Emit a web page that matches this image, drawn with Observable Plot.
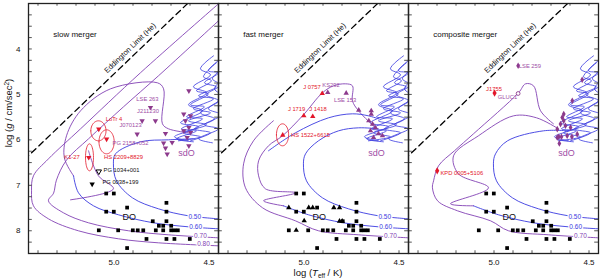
<!DOCTYPE html>
<html><head><meta charset="utf-8">
<script src="https://cdn.jsdelivr.net/npm/d3@7"></script>
<script src="https://cdn.jsdelivr.net/npm/@observablehq/plot@0.6"></script>
<style>body{margin:0;background:#fff;} svg{display:block;}</style>
</head><body><div id="chart"></div>
<script>
// ---------- data ----------
const panels = ["slow merger", "fast merger", "composite merger"];
const xTickLabels = [5.0, 4.5];
const yTickLabels = [4, 5, 6, 7, 8];
const xMinorTicks = [4.5, 4.6, 4.7, 4.8, 4.9, 5.0, 5.1, 5.2, 5.3, 5.4];
const yMinorTicks = [3.25, 3.5, 3.75, 4, 4.25, 4.5, 4.75, 5, 5.25, 5.5, 5.75, 6, 6.25, 6.5, 6.75, 7, 7.25, 7.5, 7.75, 8, 8.25];

// Eddington limit (He): [logTeff, log g]
const eddington = [[4.6125, 3.0], [5.45, 6.35]];
const eddLabel = ["Eddington Limit (He)", 4.915, 3.98];

// DO white dwarfs (squares), same in all panels
const doLogT = [5.041, 5.001, 4.931, 5.041, 5.001, 4.724, 4.724, 4.796, 4.724, 4.764, 4.741, 4.699, 5.080, 4.978, 4.901, 4.875, 4.846, 4.780, 4.741, 4.699, 4.682, 4.664, 4.829, 4.724, 4.682, 4.601, 4.931];
const doLogG = [7.18, 7.18, 7.49, 7.58, 7.58, 7.385, 7.58, 7.79, 7.79, 7.89, 7.89, 7.89, 7.99, 7.99, 7.99, 7.99, 7.99, 7.99, 7.99, 7.99, 7.99, 7.99, 8.18, 8.18, 8.18, 8.18, 8.38];
// extra DO stars (triangles) in fast-merger panel
const doTriT = [5.080, 5.041, 4.999, 4.975, 4.954, 4.843, 4.813, 4.813, 4.799];
const doTriG = [7.49, 7.99, 7.78, 7.49, 7.49, 7.49, 7.49, 7.79, 7.79];

// sdO stars
const sdoSlowT = [4.808, 4.852, 4.878, 4.739, 4.729, 4.720, 4.694, 4.606, 4.606, 4.633, 4.597, 4.624, 4.606, 4.633, 4.597, 4.615, 4.729, 4.782];
const sdoSlowG = [5.288, 5.581, 5.874, 6.071, 6.181, 6.314, 6.058, 6.131, 4.921, 5.433, 5.471, 5.581, 5.728, 5.801, 5.838, 5.948, 5.860, 5.581];
const sdoFastT = [4.875, 4.778, 4.712, 4.646, 4.646, 4.659, 4.639, 4.624, 4.650, 4.608, 4.587, 4.634];
const sdoFastG = [4.958, 4.971, 5.345, 5.361, 5.433, 5.581, 5.653, 5.735, 5.801, 5.867, 5.911, 5.948];
const sdoCompT = [4.873, 4.536, 4.588, 4.633, 4.641, 4.633, 4.650, 4.624, 4.667, 4.597, 4.562, 4.667, 4.615, 4.659, 4.645, 4.590, 4.656];
const sdoCompG = [4.371, 4.679, 5.141, 5.433, 5.508, 5.581, 5.653, 5.691, 5.764, 5.728, 5.874, 5.948, 5.911, 5.933, 5.933, 5.933, 6.080];
const compOpen = [[4.873, 4.98]];

// special (red) objects
const redSlow = [[5.080, 5.764], [5.039, 5.984], [5.133, 6.388]];
const redFast = [[4.904, 4.980], [5.001, 5.471], [4.954, 5.486], [5.112, 5.895]];
const redComp = [[4.997, 4.971], [5.299, 6.681]];
const blackOpenSlow = [[5.080, 6.696]];
const blackFilledSlow = [[5.115, 6.974]];

// error ellipses: panel, centre logT, centre log g, half-width, half-height
const ellipses = [
  ["slow merger", 5.082, 5.801, 0.040, 0.22],
  ["slow merger", 5.039, 6.043, 0.040, 0.264],
  ["slow merger", 5.129, 6.384, 0.021, 0.297],
  ["fast merger", 5.113, 5.889, 0.032, 0.242]
];

// object labels: text, logT, log g, kind, anchor
const slowLabels = [
  ["LSE 263", 4.824, 5.097, "sdo", "middle"],
  ["J211230", 4.821, 5.367, "sdo", "middle"],
  ["J070123", 4.913, 5.675, "sdo", "middle"],
  ["PG 2158+052", 4.913, 6.071, "sdo", "middle"],
  ["LoTr 4", 5.000, 5.537, "red", "middle"],
  ["K1-27", 5.221, 6.388, "red", "middle"],
  ["HS 2209+8829", 4.950, 6.388, "red", "middle"],
  ["PG 1034+001", 5.055, 6.666, "black", "start"],
  ["PG 0038+199", 5.061, 6.938, "black", "start"]
];
const fastLabels = [
  ["J 0757", 4.958, 4.848, "red", "middle"],
  ["KS292", 4.858, 4.789, "sdo", "middle"],
  ["LSE 153", 4.784, 5.119, "sdo", "middle"],
  ["J 1719", 5.039, 5.323, "red", "middle"],
  ["J 1418", 4.926, 5.323, "red", "middle"],
  ["HS 1522+6615", 4.966, 5.895, "red", "middle"]
];
const compLabels = [
  ["LSE 259", 4.811, 4.371, "sdo", "middle"],
  ["J1755", 5.000, 4.883, "red", "middle"],
  ["GLUC1", 4.929, 5.068, "sdo", "middle"],
  ["KPD 0005+5106", 5.282, 6.740, "red", "start"]
];
const regionLabels = [["sdO", 4.618, 6.30, "sdo"], ["DO", 4.920, 7.70, "black"]];
const panelTitles = [5.32, 3.68];
const massLabels = [["0.50", 4.575, 7.693], ["0.60", 4.570, 7.913], ["0.70", 4.545, 8.111]];
const massLabel080 = [["0.80", 4.529, 8.287]];

// cooling tracks (lower parts, common)
const cool050 = [[4.992, 6.307], [5.003, 6.527], [4.987, 6.901], [4.903, 7.275], [4.766, 7.517], [4.608, 7.671], [4.45, 7.737]];
const cool060 = [[5.213, 6.791], [5.187, 7.165], [5.108, 7.451], [4.976, 7.649], [4.792, 7.825], [4.608, 7.913], [4.45, 7.957]];
const cool070 = [[5.345, 7.341], [5.266, 7.605], [5.134, 7.825], [4.924, 8.000], [4.713, 8.089], [4.45, 8.155]];
const cool080 = [[5.424, 7.451], [5.345, 7.737], [5.187, 8.001], [4.976, 8.177], [4.766, 8.265], [4.45, 8.331]];

// slow merger upper tracks
const slowTop050 = [[4.582, 5.977], [4.713, 5.999], [4.861, 6.043]];
const slowPA = [[4.45, 3.007], [4.861, 4.525], [5.176, 5.757], [5.345, 6.418], [5.424, 6.791], [5.434, 7.121]];
const slowPB = [[4.45, 3.381], [4.766, 4.591], [4.95, 5.273], [5.134, 5.977], [5.25, 6.445], [5.303, 6.886], [5.318, 7.172]];
const slowPC = [[4.608, 5.845], [4.713, 5.757], [4.745, 5.647], [4.739, 4.877], [4.771, 4.745], [5.018, 4.877], [5.176, 5.361], [5.25, 5.911], [5.261, 6.401]];
const slowTongue = [[5.134, 6.24], [5.082, 6.791], [5.003, 7.077], [5.229, 7.319]];
// fast merger upper tracks
const fastTop050 = [[4.608, 5.757], [4.713, 5.735], [4.818, 5.801], [4.924, 6.021]];
const fastBlue1 = [[5.187, 6.24], [5.045, 5.845], [4.871, 5.515], [4.745, 5.427], [4.661, 5.471], [4.608, 5.537]];
const fastPA = [[4.624, 5.735], [4.713, 5.361], [4.745, 5.141], [4.745, 4.811], [4.782, 4.767], [4.845, 4.811], [4.903, 4.965], [5.003, 5.449], [5.113, 5.911], [5.187, 6.131], [5.239, 6.461], [5.239, 6.791], [5.203, 7.077], [5.045, 7.165], [5.213, 7.341]];
const fastPB = [[5.161, 5.581], [5.266, 6.021], [5.318, 6.527], [5.308, 7.055], [5.218, 7.495], [5.045, 7.781]];
// composite merger upper tracks
const compTop050 = [[4.608, 5.801], [4.739, 5.801], [4.929, 6.021]];
const compPA = [[4.687, 5.647], [4.755, 5.361], [4.792, 4.811], [4.834, 4.767], [4.871, 4.965], [5.108, 5.867], [5.208, 6.24], [5.292, 6.571], [5.318, 6.901], [5.324, 7.055], [5.297, 7.341], [5.192, 7.561], [5.018, 7.781]];
const compPB = [[4.661, 5.757], [4.776, 5.515], [4.897, 5.471], [5.082, 5.911], [5.213, 6.351], [5.187, 6.747], [5.029, 7.055], [5.229, 7.407]];

// He-burning zig-zag tracks in the sdO region
const zz1 = [[4.439, 4.217], [4.503, 4.481], [4.45, 4.525], [4.524, 4.745], [4.461, 4.833], [4.555, 5.031], [4.476, 5.097], [4.582, 5.317], [4.492, 5.405], [4.608, 5.581], [4.513, 5.669], [4.634, 5.845], [4.545, 5.933], [4.661, 6.021]];
const zz2 = [[4.461, 4.305], [4.529, 4.613], [4.487, 4.701], [4.566, 4.921], [4.503, 4.987], [4.597, 5.229], [4.524, 5.273], [4.618, 5.493], [4.534, 5.537], [4.645, 5.757], [4.566, 5.801], [4.671, 5.977], [4.582, 6.043]];
const zz3 = [[4.418, 4.393], [4.482, 4.657], [4.439, 4.789], [4.513, 5.009], [4.45, 5.141], [4.545, 5.405], [4.471, 5.537], [4.576, 5.757], [4.492, 5.845], [4.597, 6.021]];
const zz4 = [[4.476, 4.151], [4.545, 4.437], [4.492, 4.569], [4.582, 4.833], [4.513, 4.965], [4.608, 5.229], [4.534, 5.361], [4.650, 5.625], [4.555, 5.713], [4.682, 5.933], [4.608, 6.021]];
const zz5 = [[4.408, 4.591], [4.471, 4.877], [4.424, 5.053], [4.503, 5.317], [4.434, 5.449], [4.524, 5.669], [4.450, 5.757], [4.555, 5.977], [4.482, 6.065]];

// ---------- styles ----------
const BLUE = "#3a3ae0", PURPLE = "#8242b4", SDO = "#8c3a8c", RED = "#e3162a", SDOLAB = "#a04ea6";
const kindColor = {sdo: SDOLAB, red: RED, black: "#111"};
const [SLOW, FAST, COMP] = panels;

// ---------- assemble ----------
const tracks = [];
let tid = 0;
function addTrack(panel, color, pts, curve) {
  const id = "t" + (tid++);
  pts.forEach(([t, g]) => tracks.push({panel, id, color, curve, logT: t, logg: g}));
}
addTrack(SLOW, "purple", slowPA.concat(cool080), "s");
addTrack(SLOW, "purple", slowPB.concat(cool070), "s");
addTrack(SLOW, "purple", slowPC.concat([cool060[0]]), "s");
addTrack(SLOW, "blue", cool060, "s");
addTrack(SLOW, "blue", slowTop050.concat(cool050), "s");
addTrack(SLOW, "purple", slowTongue, "s");
addTrack(FAST, "blue", fastTop050.concat(cool050), "s");
addTrack(FAST, "blue", fastBlue1, "s");
addTrack(FAST, "purple", fastPA.concat([cool060[2]]), "s");
addTrack(FAST, "blue", cool060.slice(2), "s");
addTrack(FAST, "purple", fastPB.concat(cool070.slice(3)), "s");
addTrack(COMP, "blue", compTop050.concat(cool050), "s");
addTrack(COMP, "purple", compPA.concat(cool070.slice(3)), "s");
addTrack(COMP, "purple", compPB.concat([cool060[2]]), "s");
addTrack(COMP, "blue", cool060.slice(2), "s");
for (const p of panels) for (const z of [zz1, zz2, zz3, zz4, zz5]) addTrack(p, "blue", z, "l");

const pts = (panel, T, G) => T.map((t, i) => ({panel, logT: t, logg: G[i]}));
const pairs = (panel, arr) => arr.map(([t, g]) => ({panel, logT: t, logg: g}));

const doRows = panels.flatMap(p => pts(p, doLogT, doLogG));
const doTriRows = pts(FAST, doTriT, doTriG);

const ellRows = [];
ellipses.forEach(([panel, ct, cg, a, b], k) => {
  for (let i = 0; i <= 48; i++) {
    const th = 2 * Math.PI * i / 48;
    ellRows.push({panel, id: k, logT: ct + a * Math.cos(th), logg: cg + b * Math.sin(th)});
  }
});

const labelRows = [
  ...slowLabels.map(d => ({panel: SLOW, d})),
  ...fastLabels.map(d => ({panel: FAST, d})),
  ...compLabels.map(d => ({panel: COMP, d}))
].map(({panel, d}) => ({panel, text: d[0], logT: d[1], logg: d[2], kind: d[3], anchor: d[4]}));
const regionRows = panels.flatMap(p => regionLabels.map(d => ({panel: p, text: d[0], logT: d[1], logg: d[2], kind: d[3]})));
const massRows = [
  ...panels.flatMap(p => massLabels.map(d => ({panel: p, text: d[0], logT: d[1], logg: d[2]}))),
  ...massLabel080.map(d => ({panel: SLOW, text: d[0], logT: d[1], logg: d[2]}))
];
const titleRows = panels.map(p => ({panel: p, text: p, logT: panelTitles[0], logg: panelTitles[1]}));
const eddRows = eddington.map(([t, g]) => ({logT: t, logg: g}));

const xy = {x: "logT", y: "logg", fx: "panel"};
const RT = 2.0; // triangle size

const chart = Plot.plot({
  width: 600, height: 279,
  marginLeft: 28, marginRight: 2, marginTop: 3, marginBottom: 26,
  style: {fontFamily: "'Liberation Sans', Arial, sans-serif", fontSize: "8px", background: "white", color: "#111"},
  fx: {domain: panels, padding: 0, axis: null, label: null},
  x: {domain: [5.45, 4.45], label: null},
  y: {domain: [3, 8.5], reverse: true, label: null},
  marks: [
    // tracks
    Plot.line(tracks.filter(d => d.color === "purple"), {...xy, z: "id", stroke: PURPLE, strokeWidth: 0.9, curve: "catmull-rom", clip: true}),
    Plot.line(tracks.filter(d => d.color === "blue" && d.curve === "s"), {...xy, z: "id", stroke: BLUE, strokeWidth: 0.9, curve: "catmull-rom", clip: true}),
    Plot.line(tracks.filter(d => d.color === "blue" && d.curve === "l"), {...xy, z: "id", stroke: BLUE, strokeWidth: 0.8, curve: "catmull-rom", clip: true}),
    // Eddington limit
    Plot.line(eddRows, {x: "logT", y: "logg", stroke: "#000", strokeWidth: 1.3, strokeDasharray: "6,4", clip: true}),
    Plot.text([eddLabel], {x: d => d[1], y: d => d[2], text: d => d[0], rotate: -44, fontSize: 7.5, fill: "#111"}),
    // error ellipses
    Plot.line(ellRows, {...xy, z: "id", stroke: RED, strokeWidth: 0.8}),
    // mass labels with halo
    Plot.text(massRows, {...xy, text: "text", fill: d => d.text === "0.50" || d.text === "0.60" ? BLUE : PURPLE, stroke: "white", strokeWidth: 2.5, fontSize: 6.5}),
    // DO stars
    Plot.dot(doRows, {...xy, symbol: "square", r: 2.1, fill: "#000", stroke: "none"}),
    Plot.dot(doTriRows, {...xy, symbol: "triangle", r: RT, fill: "#000", stroke: "none"}),
    // sdO stars
    Plot.dot(pts(SLOW, sdoSlowT, sdoSlowG), {...xy, symbol: "triangle", rotate: 180, r: RT, fill: SDO, stroke: "none"}),
    Plot.dot(pts(FAST, sdoFastT, sdoFastG), {...xy, symbol: "triangle", r: RT, fill: SDO, stroke: "none"}),
    Plot.dot(pts(COMP, sdoCompT, sdoCompG), {...xy, symbol: "diamond", r: 2.0, fill: SDO, stroke: "none"}),
    Plot.dot(pairs(COMP, compOpen), {...xy, symbol: "circle", r: 1.9, fill: "white", stroke: SDO, strokeWidth: 0.9}),
    // red objects
    Plot.dot(pairs(SLOW, redSlow), {...xy, symbol: "triangle", rotate: 180, r: RT, fill: RED, stroke: "none"}),
    Plot.dot(pairs(FAST, redFast), {...xy, symbol: "triangle", r: RT, fill: RED, stroke: "none"}),
    Plot.dot(pairs(COMP, redComp), {...xy, symbol: "diamond", r: 2.2, fill: RED, stroke: "none"}),
    Plot.dot(pairs(SLOW, blackOpenSlow), {...xy, symbol: "triangle", rotate: 180, r: RT, fill: "white", stroke: "#000", strokeWidth: 1}),
    Plot.dot(pairs(SLOW, blackFilledSlow), {...xy, symbol: "triangle", rotate: 180, r: RT, fill: "#000", stroke: "none"}),
    // labels
    Plot.text(labelRows.filter(d => d.anchor === "middle"), {...xy, text: "text", fill: d => kindColor[d.kind], fontSize: 5.8}),
    Plot.text(labelRows.filter(d => d.anchor === "start"), {...xy, text: "text", fill: d => kindColor[d.kind], fontSize: 5.8, textAnchor: "start"}),
    Plot.text(regionRows, {...xy, text: "text", fill: d => kindColor[d.kind], fontSize: 9}),
    Plot.text(titleRows, {...xy, text: "text", fontSize: 8, textAnchor: "start", fill: "#111"}),
    // ticks (inward)
    Plot.ruleX(xMinorTicks, {x: d => d, y1: 8.5, y2: 8.44, stroke: "#555"}),
    Plot.ruleX(xMinorTicks, {x: d => d, y1: 3.0, y2: 3.06, stroke: "#555"}),
    Plot.ruleY(yMinorTicks, {y: d => d, x1: 5.45, x2: 5.43, stroke: "#555"}),
    Plot.ruleY(yMinorTicks, {y: d => d, x1: 4.45, x2: 4.47, stroke: "#555"}),
    // axes labels
    Plot.axisX({ticks: xTickLabels, tickFormat: d3.format(".1f"), tickSize: 0, tickPadding: 6, label: null, fontSize: 8}),
    Plot.axisY({ticks: yTickLabels, tickFormat: d3.format("d"), tickSize: 0, tickPadding: 8, label: null, fontSize: 8}),
    Plot.frame({stroke: "#222", strokeWidth: 1.3})
  ]
});

const svg = d3.select(chart);
const xt = svg.append("text").attr("x", 318).attr("y", 276).attr("text-anchor", "middle")
  .attr("font-size", 9.5).attr("fill", "#111");
xt.append("tspan").text("log (");
xt.append("tspan").attr("font-style", "italic").text("T");
xt.append("tspan").attr("font-size", 6.5).attr("dy", 2).text("eff");
xt.append("tspan").attr("dy", -2).text(" / K)");
const yt = svg.append("text").attr("transform", "translate(12,113) rotate(-90)").attr("text-anchor", "middle")
  .attr("font-size", 9.5).attr("fill", "#111");
yt.append("tspan").text("log (");
yt.append("tspan").attr("font-style", "italic").text("g");
yt.append("tspan").text(" / cm/sec");
yt.append("tspan").attr("font-size", 6.5).attr("dy", -3).text("2");
yt.append("tspan").attr("dy", 3).text(")");

document.getElementById("chart").appendChild(chart);
</script></body></html>
